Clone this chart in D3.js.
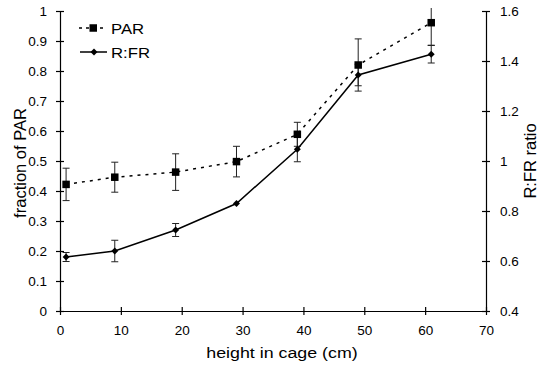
<!DOCTYPE html>
<html>
<head>
<meta charset="utf-8">
<script src="https://cdn.jsdelivr.net/npm/d3@7"></script>
<style>
  body { margin: 0; background: #fff; }
  text { font-family: "Liberation Sans", Arial, sans-serif; fill: #000; }
</style>
</head>
<body>
<svg id="chart" width="538" height="365"></svg>
<script>
// heights in cage (cm)
let heights = [1, 9, 19, 29, 39, 49, 61];
// fraction of PAR (left axis) and its error
let parValues = [0.422, 0.446, 0.463, 0.498, 0.589, 0.82, 0.961];
let parErr = [0.054, 0.05, 0.061, 0.051, 0.04, 0.087, 0.075];
// R:FR ratio (right axis) and its error
let rfrValues = [0.616, 0.64, 0.724, 0.83, 1.047, 1.344, 1.427];
let rfrErr = [0.018, 0.043, 0.026, 0, 0.05, 0.043, 0.035];

let xTicks = [0, 10, 20, 30, 40, 50, 60, 70];
let leftTicks = [0, 0.1, 0.2, 0.3, 0.4, 0.5, 0.6, 0.7, 0.8, 0.9, 1];
let rightTicks = [0.4, 0.6, 0.8, 1, 1.2, 1.4, 1.6];

let svg = d3.select("#chart");
let mLeft = 60, mRight = 486, mTop = 11, mBottom = 311;

let xScale = d3.scaleLinear().domain([0, 70]).range([mLeft, mRight]);
let yLeft = d3.scaleLinear().domain([0, 1]).range([mBottom, mTop]);
let yRight = d3.scaleLinear().domain([0.4, 1.6]).range([mBottom, mTop]);

// error bars get cut at the top edge like in the original
svg.append("clipPath").attr("id", "clip")
  .append("rect").attr("x", 0).attr("y", 8).attr("width", 538).attr("height", 357);

// axes, ticks crossing the line
function styleAxis(g) {
  g.select(".domain").attr("stroke", "#000").attr("stroke-width", 1.2);
  g.selectAll(".tick line").attr("stroke", "#000").attr("stroke-width", 1.2);
  g.selectAll(".tick text").style("font-size", "13.5px");
}

let gx = svg.append("g")
  .attr("transform", `translate(0,${mBottom})`)
  .call(d3.axisBottom(xScale).tickValues(xTicks).tickSize(0).tickPadding(14).tickSizeOuter(0));
gx.selectAll(".tick line").attr("y1", -4).attr("y2", 4);
styleAxis(gx);

let gl = svg.append("g")
  .attr("transform", `translate(${mLeft},0)`)
  .call(d3.axisLeft(yLeft).tickValues(leftTicks).tickSizeOuter(0).tickPadding(7)
    .tickFormat(d => d3.format("")(+d.toFixed(1))));
gl.selectAll(".tick line").attr("x1", -4).attr("x2", 4);
styleAxis(gl);

let gr = svg.append("g")
  .attr("transform", `translate(${mRight},0)`)
  .call(d3.axisRight(yRight).tickValues(rightTicks).tickSizeOuter(0).tickPadding(8)
    .tickFormat(d => d3.format("")(+d.toFixed(1))));
gr.selectAll(".tick line").attr("x1", -4).attr("x2", 4);
styleAxis(gr);

// axis titles
svg.append("text")
  .attr("transform", "translate(282,358) scale(1.15,1)")
  .attr("text-anchor", "middle")
  .style("font-size", "15.5px")
  .text("height in cage (cm)");

svg.append("text")
  .attr("transform", "translate(26,163) rotate(-90)")
  .attr("text-anchor", "middle")
  .style("font-size", "16.5px")
  .text("fraction of PAR");

svg.append("text")
  .attr("transform", "translate(536,161) rotate(-90)")
  .attr("text-anchor", "middle")
  .style("font-size", "16.5px")
  .text("R:FR ratio");

let parData = heights.map((h, i) => ({x: h, y: parValues[i], e: parErr[i]}));
let rfrData = heights.map((h, i) => ({x: h, y: rfrValues[i], e: rfrErr[i]}));

function errorBars(data, yScale) {
  let g = svg.append("g").attr("stroke", "#222").attr("stroke-width", 1)
    .attr("clip-path", "url(#clip)");
  data.filter(d => d.e > 0).forEach(d => {
    let x = xScale(d.x);
    let y1 = yScale(d.y - d.e), y2 = yScale(d.y + d.e);
    g.append("line").attr("x1", x).attr("x2", x).attr("y1", y1).attr("y2", y2);
    g.append("line").attr("x1", x - 3.5).attr("x2", x + 3.5).attr("y1", y1).attr("y2", y1);
    g.append("line").attr("x1", x - 3.5).attr("x2", x + 3.5).attr("y1", y2).attr("y2", y2);
  });
}

errorBars(parData, yLeft);
errorBars(rfrData, yRight);

// lines
svg.append("path")
  .datum(parData)
  .attr("fill", "none")
  .attr("stroke", "#000")
  .attr("stroke-width", 1.5)
  .attr("stroke-dasharray", "3,5")
  .attr("d", d3.line().x(d => xScale(d.x)).y(d => yLeft(d.y)));

svg.append("path")
  .datum(rfrData)
  .attr("fill", "none")
  .attr("stroke", "#000")
  .attr("stroke-width", 1.5)
  .attr("d", d3.line().x(d => xScale(d.x)).y(d => yRight(d.y)));

// markers
svg.selectAll("rect.par")
  .data(parData)
  .enter()
  .append("rect")
  .attr("class", "par")
  .attr("x", d => xScale(d.x) - 3.75)
  .attr("y", d => yLeft(d.y) - 3.75)
  .attr("width", 7.5)
  .attr("height", 7.5)
  .attr("fill", "#000");

let diamond = d3.symbol().type(d3.symbolSquare).size(24);
svg.selectAll("path.rfr")
  .data(rfrData)
  .enter()
  .append("path")
  .attr("class", "rfr")
  .attr("transform", d => `translate(${xScale(d.x)},${yRight(d.y)}) rotate(45)`)
  .attr("d", diamond)
  .attr("fill", "#000");

// legend
let lg = svg.append("g");
lg.append("line").attr("x1", 79).attr("x2", 104).attr("y1", 28).attr("y2", 28)
  .attr("stroke", "#000").attr("stroke-width", 1.5).attr("stroke-dasharray", "3,4");
lg.append("rect").attr("x", 89.5).attr("y", 24.25).attr("width", 7.5).attr("height", 7.5).attr("fill", "#000");
lg.append("text").attr("transform", "translate(111,33.5) scale(1.08,1)").style("font-size", "15.5px").text("PAR");
lg.append("line").attr("x1", 80).attr("x2", 107).attr("y1", 52).attr("y2", 52)
  .attr("stroke", "#000").attr("stroke-width", 1.5);
lg.append("path").attr("transform", "translate(94,52) rotate(45)").attr("d", diamond).attr("fill", "#000");
lg.append("text").attr("transform", "translate(111,57.5) scale(1.08,1)").style("font-size", "15.5px").text("R:FR");
</script>
</body>
</html>
